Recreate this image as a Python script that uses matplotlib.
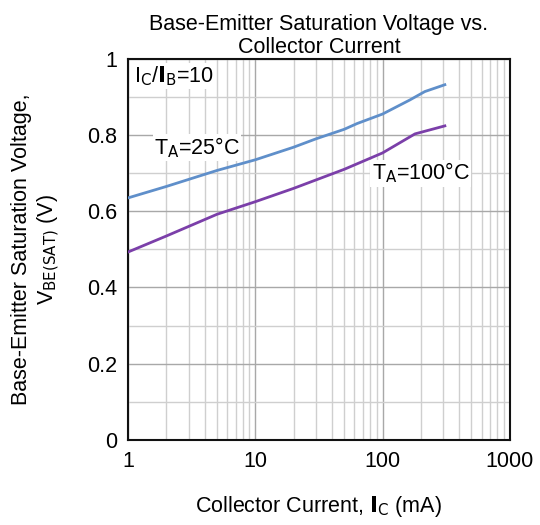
import numpy as np
import matplotlib.pyplot as plt
import matplotlib.ticker as mticker

plt.rcParams['font.family'] = ['Liberation Sans', 'DejaVu Sans']

# Collector current (mA) and V_BE(SAT) (V)
ic_25 = [1, 2, 5, 10, 20, 30, 50, 63, 100, 164, 215, 309]
vbe_25 = [0.635, 0.665, 0.707, 0.735, 0.768, 0.790, 0.815, 0.830, 0.855, 0.892, 0.914, 0.932]
ic_100 = [1, 2, 5, 10, 20, 50, 100, 180, 309]
vbe_100 = [0.493, 0.535, 0.592, 0.625, 0.660, 0.710, 0.753, 0.803, 0.824]

x_ticks = [1, 10, 100, 1000]
y_ticks = [0, 0.2, 0.4, 0.6, 0.8, 1]

fig = plt.figure(figsize=(5.4, 5.25), dpi=100)
ax = fig.add_axes([0.237, 0.162, 0.707, 0.726])

ax.plot(ic_25, vbe_25, color='#5f8fca', lw=2, zorder=3)
ax.plot(ic_100, vbe_100, color='#7b3fa9', lw=2, zorder=3)

ax.set_xscale('log')
ax.set_xlim(1, 1000)
ax.set_ylim(0, 1)
ax.set_xticks(x_ticks)
ax.set_xticklabels(['1', '10', '100', '1000'])
ax.xaxis.set_minor_locator(mticker.LogLocator(base=10, subs=np.arange(2, 10)))
ax.xaxis.set_minor_formatter(mticker.NullFormatter())
ax.set_yticks(y_ticks)
ax.set_yticklabels(['0', '0.2', '0.4', '0.6', '0.8', '1'])
ax.yaxis.set_minor_locator(mticker.MultipleLocator(0.1))

ax.grid(which='major', color='#a8a8a8', lw=1.0)
ax.grid(which='minor', color='#cfcfcf', lw=1.0)
ax.set_axisbelow(True)
ax.tick_params(which='both', length=0, labelsize=15.5, pad=8)
for s in ax.spines.values():
    s.set_linewidth(1.5)
    s.set_color('#111111')

ax.set_title('Base-Emitter Saturation Voltage vs.\nCollector Current', fontsize=15.5,
             pad=4, linespacing=1.15)
ax.set_xlabel(r'Collector Current, $\mathbf{I}_{\mathrm{C}}$ (mA)', fontsize=15.5, labelpad=16)
ax.set_ylabel('Base-Emitter Saturation Voltage,\n' + r'V$_{\mathrm{BE(SAT)}}$ (V)', fontsize=15.5,
              labelpad=18, linespacing=1.15)

ax.text(1.12, 0.955, r'I$_{\mathrm{C}}$/$\mathbf{I}_{\mathrm{B}}$=10', fontsize=15.5, va='center',
        bbox=dict(facecolor='white', edgecolor='none', pad=1))
ax.text(1.6, 0.767, r'T$_{\mathrm{A}}$=25°C', fontsize=15.5, va='center',
        bbox=dict(facecolor='white', edgecolor='none', pad=1))
ax.text(82, 0.70, r'T$_{\mathrm{A}}$=100°C', fontsize=15.5, va='center',
        bbox=dict(facecolor='white', edgecolor='none', pad=1))

fig.savefig('out.png', dpi=100)
